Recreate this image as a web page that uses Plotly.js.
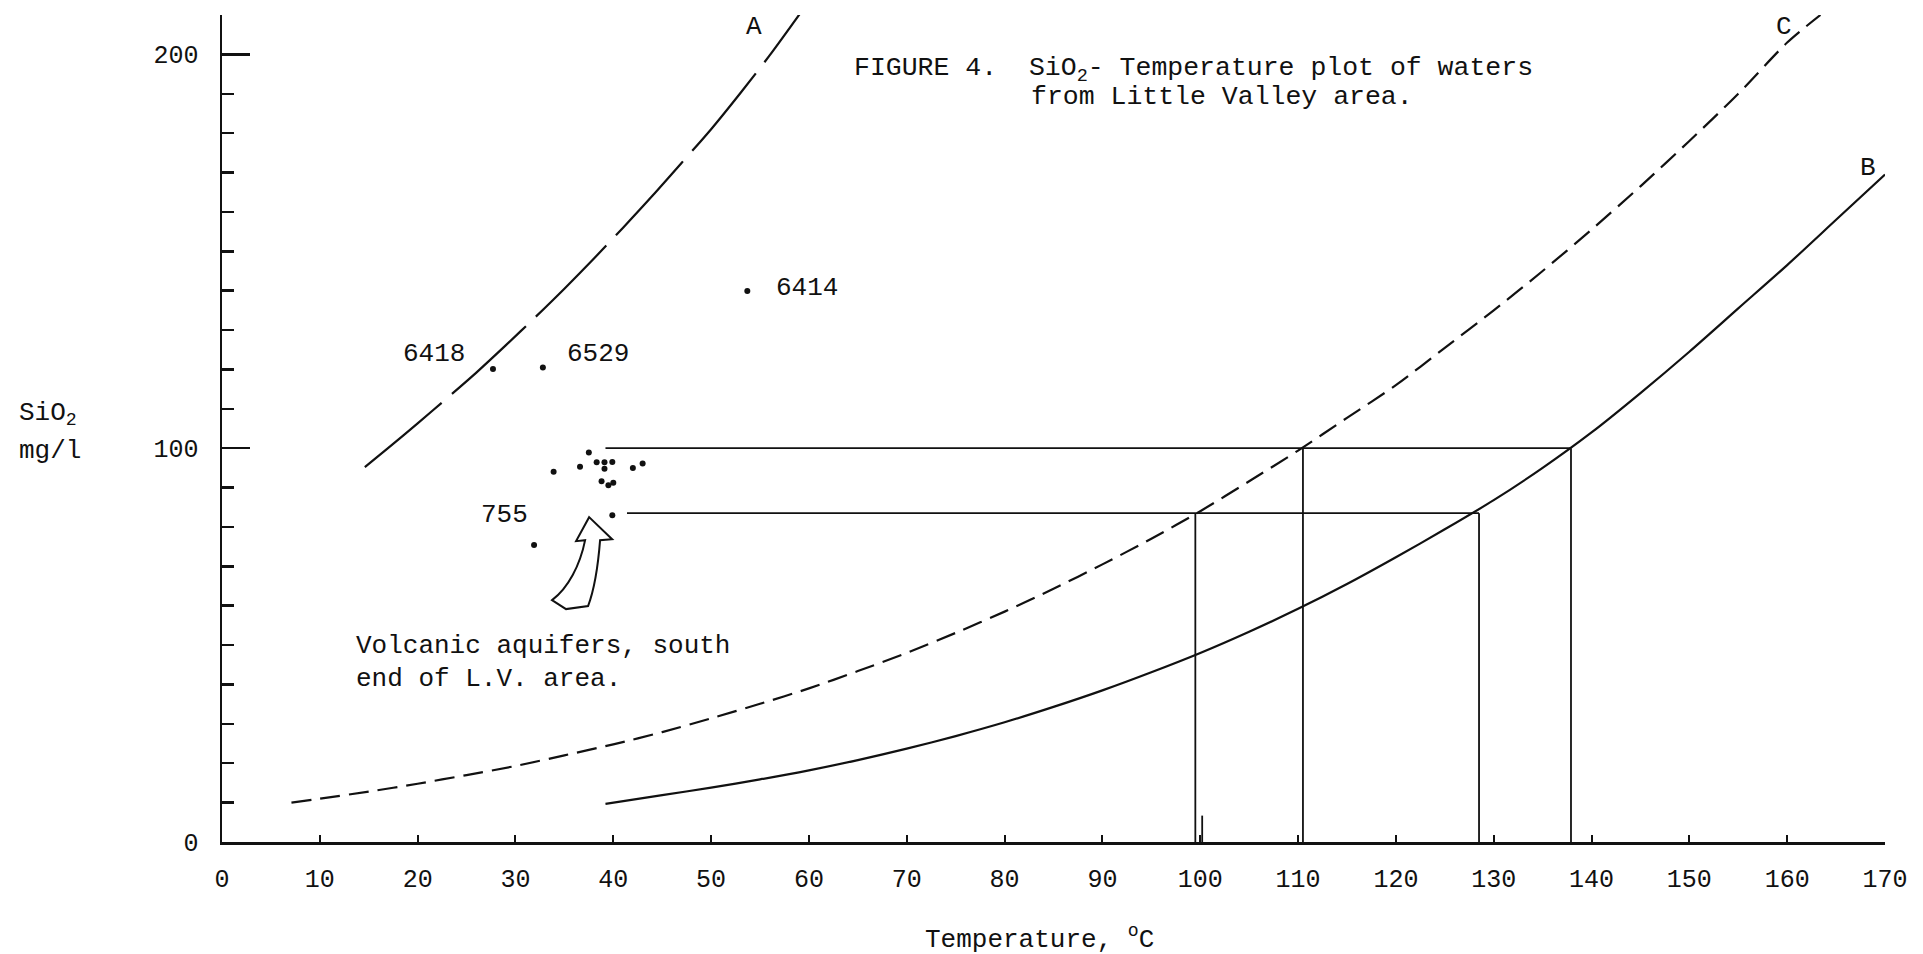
<!DOCTYPE html>
<html>
<head>
<meta charset="utf-8">
<script src="https://cdn.plot.ly/plotly-3.0.1.min.js"></script>
<style>html,body{margin:0;padding:0;background:#fff;}#chart{width:1923px;height:954px;}</style>
</head>
<body>
<div id="chart"></div>
<script>
// ---- Data ----
// Curve A (long dashes)
const curveA_T   = [14.6, 17, 20, 23, 26, 29, 32, 35, 38, 41, 44, 47, 50, 53, 56, 59.1];
const curveA_SiO = [95.2, 100.1, 106.3, 112.7, 119.2, 126.1, 133.2, 140.5, 148.1, 156.0, 164.1, 172.5, 181, 190.2, 199.8, 210.4];
// Curve C (short dashes)
const curveC_T   = [7.1, 10, 15, 20, 25, 30, 35, 40, 45, 50, 55, 60, 65, 70, 75, 80, 85, 90, 95, 100,
                    105, 110, 115, 120, 125, 130, 135, 140, 145, 150, 155, 160, 163.4];
const curveC_SiO = [10.0, 11.0, 12.8, 14.8, 17, 19.3, 22, 24.8, 27.9, 31.4, 35.1, 39, 43.4, 48, 53.1, 58.5, 64.3, 70.5, 77, 84,
                    91.6, 99.4, 107.7, 116, 125.5, 135, 145, 155.5, 166.5, 178, 190, 203, 210];
// Curve B (solid)
const curveB_T   = [39.2, 45, 50, 55, 60, 65, 70, 75, 80, 85, 90, 95, 100, 105, 110, 115, 120, 125, 130,
                    135, 140, 145, 150, 155, 160, 165, 170];
const curveB_SiO = [9.7, 11.9, 13.8, 15.9, 18.2, 20.8, 23.7, 26.9, 30.4, 34.3, 38.5, 43.1, 48, 53.4, 59.2, 65.5, 72.3, 79.4, 86.8,
                    95, 104, 114, 124.5, 135.5, 146.5, 158, 169.5];

// Water samples
const sampleT   = [27.7, 32.8, 53.7, 31.9, 37.5, 33.9, 36.6, 38.3, 39.1, 39.9, 39.1, 42.0, 43.0, 38.8, 39.5, 40.0, 39.9];
const sampleSiO = [120.1, 120.5, 139.9, 75.4, 98.9, 94.0, 95.3, 96.4, 96.4, 96.5, 94.8, 95.0, 96.1, 91.6, 90.6, 91.2, 83.0];
const sampleIds = ["6418", "6529", "6414", "755"];

// Construction lines
const upperT = [39.2, 137.9], upperSiO = [100, 100];
const lowerT = [41.4, 128.5], lowerSiO = [83.5, 83.5];
const vert1T = [99.5, 99.5],  vert1SiO = [0, 83.5];
const vert2T = [110.5, 110.5], vert2SiO = [0, 100];
const vert3T = [128.5, 128.5], vert3SiO = [0, 83.5];
const vert4T = [137.9, 137.9], vert4SiO = [0, 100];
const markT = [100.2, 100.2], markSiO = [0, 6.7];

// Axis ticks
const xTicks = [0,10,20,30,40,50,60,70,80,90,100,110,120,130,140,150,160,170];

const FONT = 'Liberation Mono, DejaVu Sans Mono, monospace';
const INK = '#111';

function guide(x, y) {
  return {x: x, y: y, type: 'scatter', mode: 'lines', line: {color: INK, width: 1.8}, hoverinfo: 'skip'};
}

const traces = [
  {x: curveA_T, y: curveA_SiO, type: 'scatter', mode: 'lines', line: {color: INK, width: 2.2, shape: 'spline', smoothing: 0.8, dash: '100px,14px'}},
  {x: curveC_T, y: curveC_SiO, type: 'scatter', mode: 'lines', line: {color: INK, width: 2.2, shape: 'spline', smoothing: 0.8, dash: '20px,9px'}},
  {x: curveB_T, y: curveB_SiO, type: 'scatter', mode: 'lines', line: {color: INK, width: 2.2, shape: 'spline', smoothing: 0.8}},
  guide(upperT, upperSiO), guide(lowerT, lowerSiO),
  guide(vert1T, vert1SiO), guide(vert2T, vert2SiO), guide(vert3T, vert3SiO), guide(vert4T, vert4SiO),
  guide(markT, markSiO),
  {x: sampleT, y: sampleSiO, type: 'scatter', mode: 'markers', marker: {color: INK, size: 6}}
];

// pixel offsets for the sample labels (label placement only)
const labelOffsets = [
  {xanchor: 'right', xshift: -26, yshift: 15},
  {xanchor: 'left',  xshift: 22,  yshift: 13},
  {xanchor: 'left',  xshift: 27,  yshift: 3},
  {xanchor: 'right', xshift: -4,  yshift: 30}
];

const annotations = sampleIds.map((id, i) => ({
  x: sampleT[i], y: sampleSiO[i], xref: 'x', yref: 'y', text: id, showarrow: false,
  xanchor: labelOffsets[i].xanchor, yanchor: 'middle',
  xshift: labelOffsets[i].xshift, yshift: labelOffsets[i].yshift,
  font: {family: FONT, size: 26, color: INK}
}));

function txt(x, y, text, xanchor, size, ref) {
  return {x: x, y: y, xref: ref ? 'paper' : 'x', yref: ref ? 'paper' : 'y', text: text, showarrow: false,
          xanchor: xanchor || 'left', yanchor: 'middle', font: {family: FONT, size: size || 26, color: INK}};
}

annotations.push(
  txt(54.4, 206.9, 'A', 'center'),
  txt(159.7, 206.9, 'C', 'center'),
  txt(168.3, 171.1, 'B', 'center'),
  txt(64.4, 196.0, 'FIGURE 4.  SiO<sub>2</sub>- Temperature plot of waters', 'left', 26.5),
  txt(82.5, 189.3, 'from Little Valley area.', 'left', 26.5),
  txt(13.5, 49.8, 'Volcanic aquifers, south', 'left'),
  txt(13.5, 41.5, 'end of L.V. area.', 'left'),
  txt(-0.1233, 0.5175, 'SiO<sub>2</sub>', 'left', 26, true),
  txt(-0.1233, 0.4728, 'mg/l', 'left', 26, true),
  txt(0.4215, -0.1161, 'Temperature, <sup>o</sup>C', 'left', 26, true)
);

// hollow pointer arrow toward the volcanic-aquifer cluster
const arrowPath = 'M 37.53 82.49 L 39.88 76.90 L 38.65 76.65 C 38.45 70.30, 38.04 63.96, 37.42 59.90 ' +
                  'L 35.17 59.14 L 33.74 61.42 C 35.38 64.47, 36.61 70.30, 37.12 76.65 L 36.20 76.40 Z';

const layout = {
  width: 1923, height: 954,
  margin: {l: 222, r: 38, t: 15, b: 112},
  paper_bgcolor: '#fff', plot_bgcolor: '#fff',
  showlegend: false,
  xaxis: {
    range: [0, 170], showgrid: false, zeroline: false,
    showline: true, linecolor: INK, linewidth: 2.5,
    tickmode: 'array', tickvals: xTicks, ticktext: xTicks.map(String),
    ticks: 'inside', ticklen: 7, tickwidth: 2, tickcolor: INK,
    ticklabelstandoff: 12,
    tickfont: {family: FONT, size: 25, color: INK}
  },
  yaxis: {
    range: [0, 210], showgrid: false, zeroline: false,
    showline: true, linecolor: INK, linewidth: 2.5,
    tickmode: 'linear', tick0: 0, dtick: 100,
    ticks: 'inside', ticklen: 28, tickwidth: 2.5, tickcolor: INK,
    ticklabelstandoff: 16,
    tickfont: {family: FONT, size: 25, color: INK},
    minor: {tick0: 0, dtick: 10, ticks: 'inside', ticklen: 12, tickwidth: 2.5, tickcolor: INK, showgrid: false}
  },
  shapes: [
    {type: 'path', xref: 'x', yref: 'y', path: arrowPath, line: {color: INK, width: 2}, fillcolor: 'rgba(0,0,0,0)'}
  ],
  annotations: annotations
};

Plotly.newPlot('chart', traces, layout, {staticPlot: true, displayModeBar: false});
</script>
</body>
</html>
